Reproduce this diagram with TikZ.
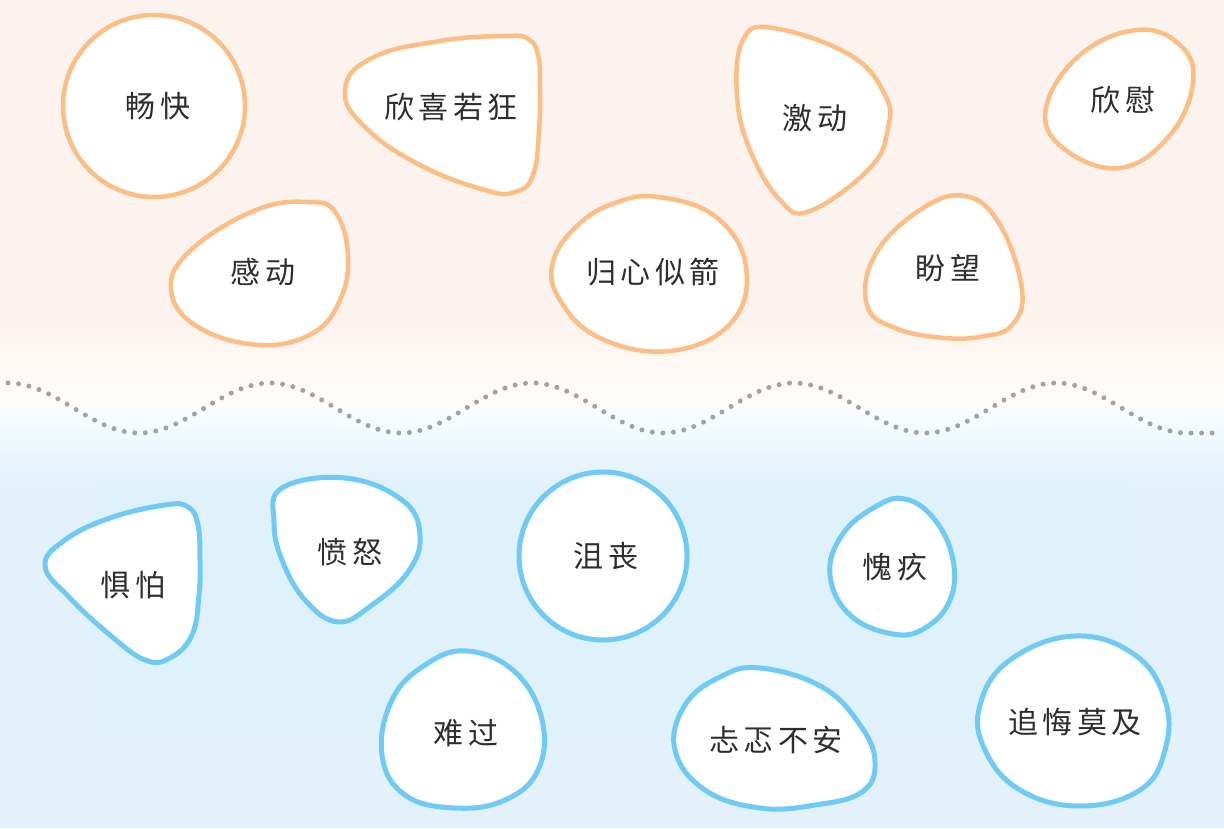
\documentclass[tikz,border=0pt]{standalone}
\usepackage{fontspec}
\newfontfamily\cjk[LetterSpace=15]{Noto Sans CJK SC}
\definecolor{posline}{HTML}{FDBE86}
\definecolor{negline}{HTML}{6FCBF5}
\definecolor{peach}{HTML}{FDF3EE}
\definecolor{sky}{HTML}{DFF1FB}
\definecolor{wavegray}{HTML}{A2A2A2}
\definecolor{ink}{HTML}{2E2E2E}
\begin{document}
\begin{tikzpicture}[x=1pt, y=-1pt,
  posblob/.style={draw=posline, fill=white, line width=4.5pt, line join=round},
  negblob/.style={draw=negline, fill=white, line width=5pt, line join=round},
  word/.style={font=\cjk\fontsize{30}{30}\selectfont, text=ink, inner sep=0pt},
  wavedots/.style={draw=wavegray, line width=5pt, line cap=round, dash pattern=on 0pt off 10.6pt}]
\useasboundingbox (0,0) rectangle (1224,828);
% background bands
\fill[peach] (0,0) rectangle (1224,320);
\shade[top color=peach, bottom color=white!85!peach] (0,320) rectangle (1224,408);
\shade[top color=white!85!sky, bottom color=sky] (0,408) rectangle (1224,490);
\fill[sky] (0,490) rectangle (1224,828);
\foreach \i in {1,...,24}
  \draw[white, opacity=0.035, line width=8*\i pt] (0,0) rectangle (1224,828);
% wave
\draw[wavedots] plot[domain=8:1218, samples=220, smooth] (\x, {\x<1186 ? 408-25*cos(1.374*(\x-8)) : 433});
% positive
\draw[posblob] (154,106) circle[radius=91];
\node[word] (pos0) at (158,106) {畅快};
\draw[posblob] plot[smooth cycle, tension=0.75] coordinates {(345,90) (372,58) (440,41) (505,36) (528,39) (538,55) (540,85) (539,130) (533,175) (515,192) (485,190) (420,165) (365,127)};
\node[word] (pos1) at (451,107) {欣喜若狂};
\draw[posblob] plot[smooth cycle, tension=0.7] coordinates {(773,28) (850,55) (885,95) (888,128) (870,168) (810,211) (780,200) (750,150) (737,95) (743,40)};
\node[word] (pos2) at (815,118) {激动};
\draw[posblob] plot[smooth cycle, tension=0.7] coordinates {(1046,108) (1080,55) (1137,30) (1180,45) (1193,82) (1170,135) (1120,168) (1063,148)};
\node[word] (pos3) at (1123,100) {欣慰};
\draw[posblob] plot[smooth cycle, tension=0.7] coordinates {(309,202) (336,213) (348,257) (340,300) (313,333) (260,345) (198,327) (171,290) (191,250) (256,210)};
\node[word] (pos4) at (263,272) {感动};
\draw[posblob] plot[smooth cycle, tension=0.7] coordinates {(658,197) (716,217) (746,267) (731,323) (670,351) (600,338) (560,300) (553,262) (578,225) (615,203)};
\node[word] (pos5) at (653,272) {归心似箭};
\draw[posblob] plot[smooth cycle, tension=0.7] coordinates {(965,196) (1000,225) (1022,290) (1012,325) (985,336) (945,338) (895,328) (867,305) (875,255) (920,210)};
\node[word] (pos6) at (948,268) {盼望};
% negative
\draw[negblob] plot[smooth cycle, tension=0.7] coordinates {(45,566) (65,540) (110,518) (165,505) (188,507) (198,525) (200,560) (199,595) (192,635) (170,658) (145,660) (110,635) (70,598)};
\node[word] (neg0) at (133,585) {惧怕};
\draw[negblob] plot[smooth cycle, tension=0.7] coordinates {(282,488) (345,478) (402,500) (420,535) (408,572) (372,605) (338,622) (305,600) (282,560) (274,522)};
\node[word] (neg1) at (350,552) {愤怒};
\draw[negblob] (603,556) circle[radius=84];
\node[word] (neg2) at (606,556) {沮丧};
\draw[negblob] plot[smooth cycle, tension=0.7] coordinates {(905,499) (935,520) (953,560) (950,600) (925,628) (893,634) (850,615) (830,575) (842,535) (875,507)};
\node[word] (neg3) at (895,567) {愧疚};
\draw[negblob] plot[smooth cycle, tension=0.7] coordinates {(467,651) (515,672) (542,720) (538,770) (505,800) (455,808) (405,795) (382,755) (392,700) (425,665)};
\node[word] (neg4) at (466,733) {难过};
\draw[negblob] plot[smooth cycle, tension=0.7] coordinates {(760,668) (822,687) (860,725) (875,762) (862,792) (815,805) (760,808) (705,790) (675,750) (685,705) (720,677)};
\node[word] (neg5) at (776,740) {忐忑不安};
\draw[negblob] plot[smooth cycle, tension=0.7] coordinates {(1075,636) (1135,655) (1165,700) (1165,750) (1140,790) (1080,806) (1020,790) (985,750) (980,705) (1010,660)};
\node[word] (neg6) at (1075,722) {追悔莫及};
\end{tikzpicture}
\end{document}
